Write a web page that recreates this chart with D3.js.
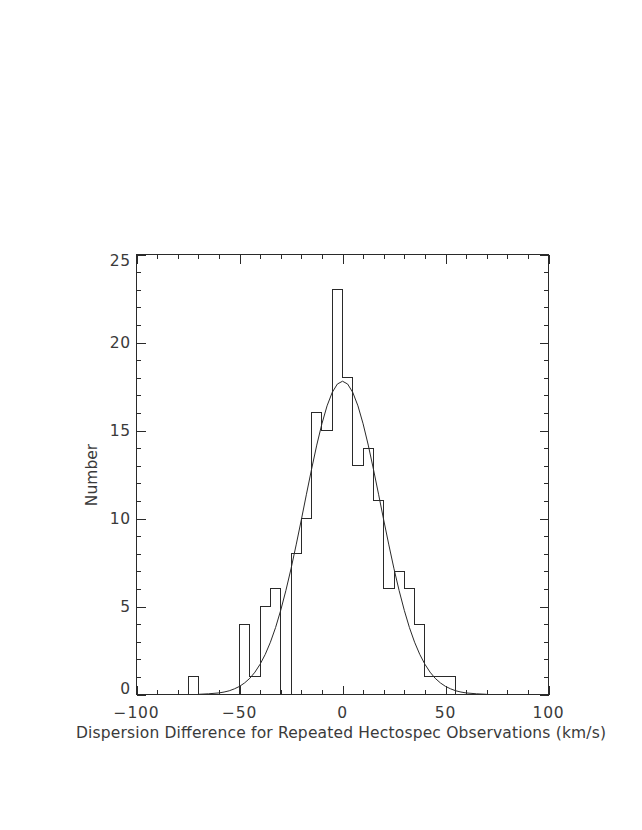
<!DOCTYPE html>
<html>
<head>
<meta charset="utf-8">
<script src="https://cdn.jsdelivr.net/npm/d3@7"></script>
<style>
  html, body { margin: 0; padding: 0; background: #fff; }
  svg { display: block; }
  text { font-family: "DejaVu Sans", sans-serif; fill: #3a3a3a; }
</style>
</head>
<body>
<svg id="chart" width="642" height="830"></svg>
<script>
// Histogram bins (left edges, width 5 km/s) and counts
const binStarts = [-75, -70, -65, -60, -55, -50, -45, -40, -35, -30, -25, -20, -15, -10, -5, 0, 5, 10, 15, 20, 25, 30, 35, 40, 45, 50];
const binCounts = [1, 0, 0, 0, 0, 4, 1, 5, 6, 0, 8, 10, 16, 15, 23, 18, 13, 14, 11, 6, 7, 6, 4, 1, 1, 1];
const binWidth = 5;

// Fitted curve
const curveX = [-70, -65, -60, -57.5, -55, -52.5, -50, -47.5, -45, -42.5, -40, -37.5, -35, -32.5, -30, -27.5, -25, -22.5, -20, -17.5, -15, -12.5, -10, -7.5, -5, -2.5, 0, 2.5, 5, 7.5, 10, 12.5, 15, 17.5, 20, 22.5, 25, 27.5, 30, 32.5, 35, 37.5, 40, 42.5, 45, 47.5, 50, 52.5, 55, 57.5, 60, 65, 70];
const curveY = [0.01, 0.04, 0.09, 0.14, 0.21, 0.32, 0.46, 0.66, 0.92, 1.27, 1.72, 2.28, 2.97, 3.80, 4.78, 5.90, 7.14, 8.50, 9.92, 11.38, 12.81, 14.17, 15.38, 16.40, 17.16, 17.64, 17.80, 17.64, 17.16, 16.40, 15.38, 14.17, 12.81, 11.38, 9.92, 8.50, 7.14, 5.90, 4.78, 3.80, 2.97, 2.28, 1.72, 1.27, 0.92, 0.66, 0.46, 0.32, 0.21, 0.14, 0.09, 0.04, 0.01];

// Axis ticks
const xMajorTicks = [-100, -50, 0, 50, 100];
const xMinorTicks = [-90, -80, -70, -60, -40, -30, -20, -10, 10, 20, 30, 40, 60, 70, 80, 90];
const yMajorTicks = [0, 5, 10, 15, 20, 25];
const yMinorTicks = [1, 2, 3, 4, 6, 7, 8, 9, 11, 12, 13, 14, 16, 17, 18, 19, 21, 22, 23, 24];
const xTickLabels = ["\u2212100", "\u221250", "0", "50", "100"];
const yTickLabels = ["0", "5", "10", "15", "20", "25"];
const xTitle = "Dispersion Difference for Repeated Hectospec Observations (km/s)";
const yTitle = "Number";

const L = 136.5, R = 548.5, T = 254.5, B = 694.5;
const svg = d3.select("#chart");
const x = d3.scaleLinear().domain([-100, 100]).range([L, R]);
const y = d3.scaleLinear().domain([0, 25]).range([B, T]);
const stroke = "#2a2a2a";

// Frame
svg.append("rect").attr("x", L).attr("y", T).attr("width", R - L).attr("height", B - T)
  .attr("fill", "none").attr("stroke", stroke).attr("stroke-width", 1);

const g = svg.append("g").attr("stroke", stroke).attr("stroke-width", 1).attr("shape-rendering", "crispEdges");
const majLen = 9, minLen = 4.5;
xMajorTicks.forEach(v => {
  const px = Math.round(x(v)) + 0.5;
  g.append("line").attr("x1", px).attr("x2", px).attr("y1", B).attr("y2", B - majLen);
  g.append("line").attr("x1", px).attr("x2", px).attr("y1", T).attr("y2", T + majLen);
});
xMinorTicks.forEach(v => {
  const px = Math.round(x(v)) + 0.5;
  g.append("line").attr("x1", px).attr("x2", px).attr("y1", B).attr("y2", B - minLen);
  g.append("line").attr("x1", px).attr("x2", px).attr("y1", T).attr("y2", T + minLen);
});
yMajorTicks.forEach(v => {
  const py = Math.round(y(v)) + 0.5;
  g.append("line").attr("x1", L).attr("x2", L + majLen).attr("y1", py).attr("y2", py);
  g.append("line").attr("x1", R).attr("x2", R - majLen).attr("y1", py).attr("y2", py);
});
yMinorTicks.forEach(v => {
  const py = Math.round(y(v)) + 0.5;
  g.append("line").attr("x1", L).attr("x2", L + minLen).attr("y1", py).attr("y2", py);
  g.append("line").attr("x1", R).attr("x2", R - minLen).attr("y1", py).attr("y2", py);
});

// Tick labels
xMajorTicks.forEach((v, i) => {
  svg.append("text").attr("x", x(v)).attr("y", 718).attr("text-anchor", "middle")
    .attr("font-size", 15.5).attr("letter-spacing", 0.8).text(xTickLabels[i]);
});
yMajorTicks.forEach((v, i) => {
  let dy = 5;
  if (v === 0) dy = -0.5;
  if (v === 25) dy = 11;
  svg.append("text").attr("x", 131).attr("y", y(v) + dy).attr("text-anchor", "end")
    .attr("font-size", 15.5).attr("letter-spacing", 0.8).text(yTickLabels[i]);
});
svg.append("text").attr("x", 341).attr("y", 738).attr("text-anchor", "middle")
  .attr("font-size", 15.5).attr("textLength", 530).attr("lengthAdjust", "spacing").text(xTitle);
svg.append("text").attr("transform", "translate(97,475) rotate(-90)").attr("text-anchor", "middle")
  .attr("font-size", 15.5).text(yTitle);

// Histogram outline
const pts = [[binStarts[0], 0]];
binStarts.forEach((s, i) => {
  pts.push([s, binCounts[i]]);
  pts.push([s + binWidth, binCounts[i]]);
});
pts.push([binStarts[binStarts.length - 1] + binWidth, 0]);
const line = d3.line().x(d => x(d[0])).y(d => y(d[1]));
svg.append("path").attr("d", line(pts)).attr("fill", "none").attr("stroke", stroke)
  .attr("stroke-width", 1).attr("shape-rendering", "crispEdges");

// Fitted curve
const cpts = curveX.map((v, i) => [v, curveY[i]]);
svg.append("path").attr("d", line(cpts)).attr("fill", "none").attr("stroke", stroke)
  .attr("stroke-width", 1);
</script>
</body>
</html>
